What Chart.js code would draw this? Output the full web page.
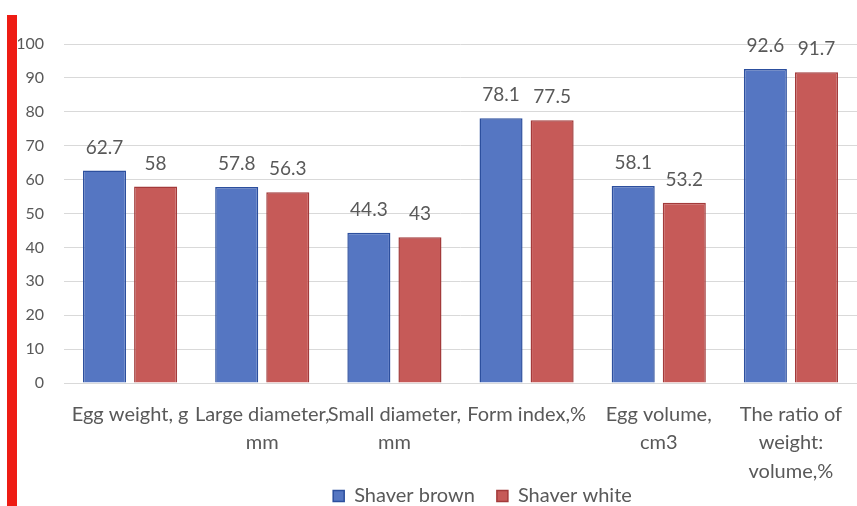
<!DOCTYPE html>
<html>
<head>
<meta charset="utf-8">
<script src="https://cdn.jsdelivr.net/npm/chart.js@4/dist/chart.umd.min.js"></script>
<style>
  html, body { margin: 0; padding: 0; background: #fff; }
  #wrap { position: relative; width: 857px; height: 506px; }
  #redbar { position: absolute; left: 7px; top: 15px; width: 10px; height: 491px; background: #ee1c14; z-index: 2; }
  canvas { position: absolute; left: 0; top: 0; }
</style>
</head>
<body>
<div id="wrap">
  <div id="redbar"></div>
  <canvas id="c" width="857" height="506"></canvas>
</div>
<script>
const categories = [
  ["Egg weight, g"],
  ["Large diameter,", "mm"],
  ["Small diameter,", "mm"],
  ["Form index,%"],
  ["Egg volume,", "cm3"],
  ["The ratio of", "weight:", "volume,%"]
];
const shaverBrown = [62.7, 57.8, 44.3, 78.1, 58.1, 92.6];
const shaverWhite = [58, 56.3, 43, 77.5, 53.2, 91.7];
const yTicks = [0, 10, 20, 30, 40, 50, 60, 70, 80, 90, 100];

const FONT = "Lato, 'Open Sans', sans-serif";
const TXT = "#595959";

const helpers = {
  id: 'helpers',
  afterLayout(chart) {
    // let multi-line category labels extend below the axis box
    const xs = chart.scales.x;
    if (xs) xs._computeLabelArea = () => undefined;
    // legend sits a bit right of canvas centre, as in the original
    const lg = chart.legend;
    if (lg) { lg.left += 45; lg.right += 45; }
  },
  afterDatasetsDraw(chart) {
    const ctx = chart.ctx;
    ctx.save();
    ctx.font = "19px " + FONT;
    ctx.fillStyle = TXT;
    ctx.textAlign = 'center';
    ctx.textBaseline = 'middle';
    chart.data.datasets.forEach((ds, i) => {
      const meta = chart.getDatasetMeta(i);
      meta.data.forEach((bar, j) => {
        ctx.fillText(String(ds.data[j]), bar.x, bar.y - 23);
      });
    });
    ctx.restore();
  }
};

new Chart(document.getElementById('c'), {
  type: 'bar',
  data: {
    labels: categories,
    datasets: [
      { label: 'Shaver brown', data: shaverBrown, backgroundColor: '#5576c2', borderColor: '#2c4f9e', borderWidth: 1.5 },
      { label: 'Shaver white', data: shaverWhite, backgroundColor: '#c65a58', borderColor: '#a33a3a', borderWidth: 1.5 }
    ]
  },
  options: {
    responsive: false,
    animation: false,
    devicePixelRatio: 1,
    categoryPercentage: 0.773,
    barPercentage: 0.843,
    layout: { padding: { left: 18, top: 44, right: 0, bottom: -10 } },
    plugins: {
      legend: {
        position: 'bottom',
        labels: {
          font: { family: FONT, size: 20 },
          color: TXT,
          boxWidth: 11,
          boxHeight: 11,
          padding: 22
        }
      },
      tooltip: { enabled: false }
    },
    scales: {
      x: {
        grid: { display: false },
        border: { display: true, color: '#d9d9d9' },
        ticks: {
          font: { family: FONT, size: 20, lineHeight: 1.43 },
          color: TXT,
          maxRotation: 0,
          minRotation: 0,
          autoSkip: false,
          padding: 9
        },
        afterFit(scale) { scale.height = 81; }
      },
      y: {
        min: 0,
        max: 100,
        afterBuildTicks(scale) { scale.ticks = yTicks.map(v => ({ value: v })); },
        afterFit(scale) { scale.width = 46; },
        grid: { color: '#d9d9d9', drawTicks: false },
        border: { display: false },
        ticks: {
          font: { family: FONT, size: 16 },
          color: TXT,
          padding: 20
        }
      }
    }
  },
  plugins: [helpers]
});
</script>
</body>
</html>
